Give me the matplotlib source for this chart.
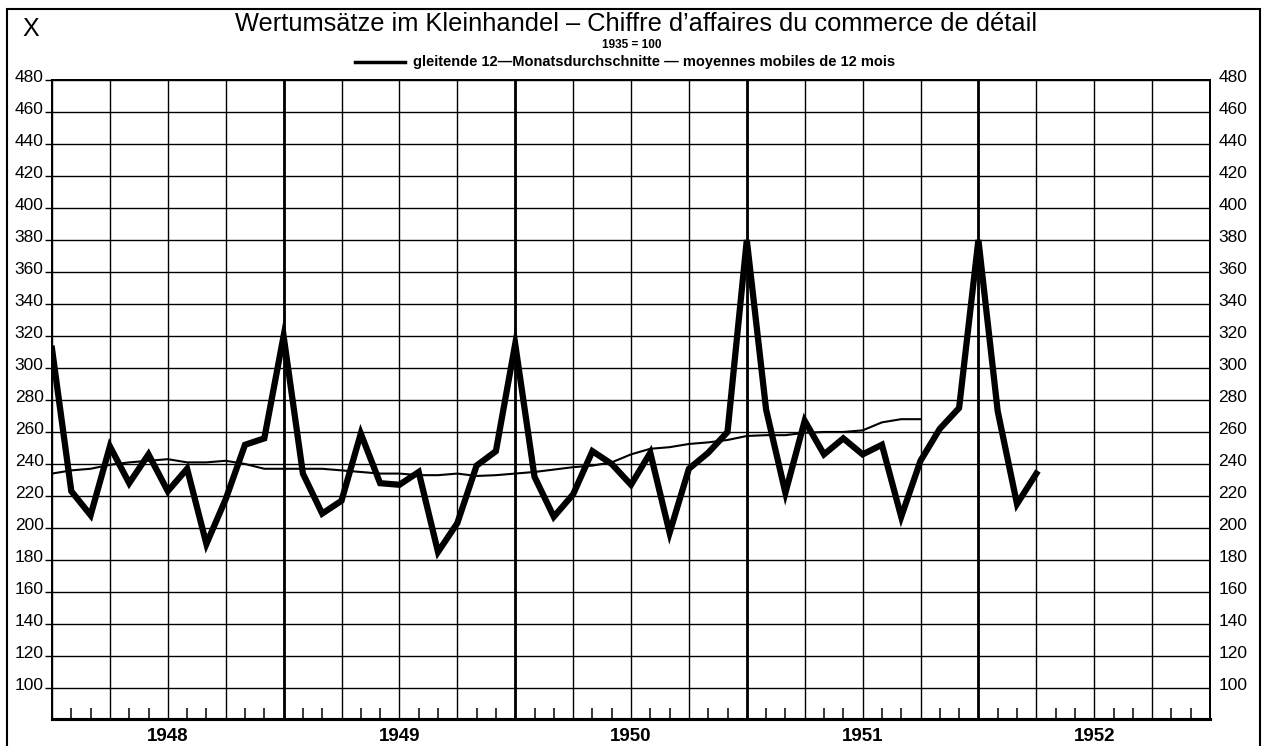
import numpy as np
import matplotlib
matplotlib.use("Agg")
import matplotlib.pyplot as plt
from matplotlib.patches import Rectangle
from matplotlib.lines import Line2D
from matplotlib.transforms import ScaledTranslation

plt.rcParams['font.family'] = ['Liberation Sans', 'DejaVu Sans']

# Wertumsätze im Kleinhandel, 1935 = 100, monthly Dec 1947 .. Mar 1952
umsatz = [312, 223, 208, 251, 228, 246, 223, 237, 190, 218, 252, 256,
          320, 234, 209, 217, 259, 228, 227, 235, 185, 203, 239, 248,
          315, 232, 207, 221, 248, 240, 227, 247, 197, 237, 247, 260,
          380, 274, 222, 267, 246, 256, 246, 252, 207, 242, 262, 275,
          380, 273, 215, 234]

# gleitende 12-Monatsdurchschnitte, Dec 1947 .. Sep 1951
gleitend = [234, 236, 237, 239.5, 241, 242, 243, 241, 241, 242, 240, 237,
            237, 237, 237, 236, 235, 234, 234, 233, 233, 234, 232.5, 233,
            234, 235, 236.5, 238, 239, 241, 246, 249.5, 250.5, 252.5, 253.5, 255,
            257.5, 258, 258, 259.5, 260, 260, 261, 266, 268, 268]

jahre = ['1948', '1949', '1950', '1951', '1952']
y_ticks = list(range(100, 481, 20))

W, H = 1270, 746
fig = plt.figure(figsize=(W / 100, H / 100), dpi=100)

def fx(px):
    return px / W

def fy(py):
    return 1 - py / H

ax = fig.add_axes([fx(52), fy(719), fx(1210) - fx(52), fy(80) - fy(719)])

monate = np.arange(len(umsatz))
ax.plot(monate, umsatz, color='k', lw=4.5, solid_joinstyle='miter', zorder=5)
ax.plot(monate[:len(gleitend)], gleitend, color='k', lw=1.5, zorder=4)

ax.set_xlim(0, 60)
ax.set_ylim(80.6, 480)

# quarter grid, month ticks
ax.set_xticks(np.arange(0, 61, 3))
ax.set_xticks(np.arange(0, 61, 1), minor=True)
ax.set_xticklabels([])
ax.tick_params(axis='x', which='major', length=0)
ax.tick_params(axis='x', which='minor', direction='in', length=8, width=1.1, color='k')
ax.grid(axis='x', which='major', color='k', lw=1.0)
for m in range(12, 60, 12):
    ax.axvline(m, color='k', lw=2.0, zorder=1)

ax.set_yticks(y_ticks)
ax.set_yticklabels([str(v) for v in y_ticks])
ax.tick_params(axis='y', left=True, right=False, length=5, width=1, pad=1,
               labelsize=12.5)
ax.grid(axis='y', color='k', lw=1.0)

ax2 = ax.twinx()
ax2.set_ylim(ax.get_ylim())
ax2.set_yticks(y_ticks)
ax2.set_yticklabels([str(v) for v in y_ticks])
ax2.tick_params(axis='y', length=0, pad=6, labelsize=12.5)

shift = ScaledTranslation(0, 0.04, fig.dpi_scale_trans)
for lbl in ax.get_yticklabels() + ax2.get_yticklabels():
    lbl.set_transform(lbl.get_transform() + shift)

for a in (ax, ax2):
    for s in a.spines.values():
        s.set_linewidth(1.4)
        s.set_color('k')
ax.spines['bottom'].set_linewidth(2.2)
ax2.spines['bottom'].set_linewidth(2.2)

for i, j in enumerate(jahre):
    ax.text(6 + 12 * i, -0.028, j, transform=ax.get_xaxis_transform(),
            ha='center', va='center', fontsize=13.5, fontweight='bold')

# header
fig.text(fx(31), fy(29), 'X', ha='center', va='center', fontsize=18)
fig.text(fx(636), fy(24),
         'Wertumsätze im Kleinhandel – Chiffre d’affaires du commerce de détail',
         ha='center', va='center', fontsize=18.3)
fig.text(fx(632), fy(45), '1935 = 100', ha='center', va='center',
         fontsize=8.5, fontweight='bold')
fig.add_artist(Line2D([fx(355), fx(405)], [fy(62), fy(62)], color='k', lw=2.5))
fig.text(fx(413), fy(62),
         'gleitende 12—Monatsdurchschnitte — moyennes mobiles de 12 mois',
         ha='left', va='center', fontsize=10.5, fontweight='bold')

fig.add_artist(Rectangle((fx(7), -0.02), fx(1260) - fx(7), fy(9) + 0.02,
                         transform=fig.transFigure, fill=False, lw=1.5,
                         edgecolor='k'))

fig.savefig('out.png', dpi=100)
